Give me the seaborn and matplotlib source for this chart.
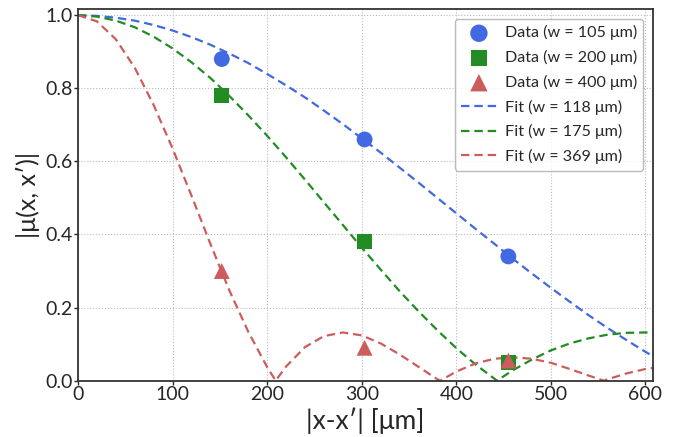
import numpy as np
import pandas as pd
import matplotlib
matplotlib.use("Agg")
import matplotlib.pyplot as plt
import seaborn as sns

# measured points
data_x = [152, 303, 455]
data_105 = [0.88, 0.66, 0.34]
data_200 = [0.78, 0.38, 0.05]
data_400 = [0.30, 0.09, 0.055]

# fit curves
fit_x = [0, 20, 40, 60, 80, 100, 120, 140, 160, 180, 200, 220, 240, 260, 280, 300,
         320, 340, 360, 380, 400, 420, 440, 460, 480, 500, 520, 540, 560, 580, 600, 610]
fit_118 = [1.000, 0.998, 0.993, 0.985, 0.973, 0.958, 0.940, 0.919, 0.895, 0.869, 0.839,
           0.808, 0.775, 0.739, 0.702, 0.663, 0.624, 0.583, 0.542, 0.500, 0.458, 0.416,
           0.375, 0.333, 0.293, 0.254, 0.216, 0.179, 0.144, 0.111, 0.079, 0.064]

fit175_x = [0, 20, 40, 60, 80, 100, 120, 140, 160, 180, 200, 220, 240, 260, 280, 300,
            320, 340, 360, 380, 400, 420, 440, 443, 460, 480, 500, 520, 540, 560, 580, 600, 610]
fit_175 = [1.000, 0.996, 0.985, 0.967, 0.941, 0.909, 0.871, 0.828, 0.779, 0.726, 0.670,
           0.611, 0.550, 0.488, 0.426, 0.364, 0.304, 0.245, 0.190, 0.138, 0.089, 0.045,
           0.006, 0.0, 0.029, 0.058, 0.083, 0.102, 0.116, 0.126, 0.131, 0.132, 0.131]

fit369_x = [0, 20, 40, 60, 80, 100, 120, 140, 160, 180, 200, 209, 220, 240, 260, 280, 300,
            320, 340, 360, 380, 383, 400, 420, 440, 460, 480, 500, 520, 540, 556, 560, 580,
            600, 610]
fit_369 = [1.000, 0.983, 0.934, 0.856, 0.754, 0.635, 0.506, 0.374, 0.247, 0.134, 0.037,
           0.0, 0.039, 0.092, 0.122, 0.132, 0.124, 0.102, 0.072, 0.038, 0.004, 0.0, 0.025,
           0.047, 0.060, 0.064, 0.060, 0.049, 0.032, 0.014, 0.0, 0.004, 0.020, 0.032, 0.036]

blue = "#4169E1"
green = "#228B22"
red = "#CD5C5C"

sns.set_style("white")
plt.rcParams["font.family"] = ["Lato", "DejaVu Sans"]

fig = plt.figure(figsize=(6.88, 4.37), dpi=100)
ax = fig.add_axes([0.1134, 0.1288, 0.8358, 0.8499])

sns.scatterplot(x=data_x, y=data_105, ax=ax, color=blue, marker="o", s=130,
                edgecolor="none", label="Data (w = 105 μm)", zorder=3)
sns.scatterplot(x=data_x, y=data_200, ax=ax, color=green, marker="s", s=115,
                edgecolor="none", label="Data (w = 200 μm)", zorder=3)
sns.scatterplot(x=data_x, y=data_400, ax=ax, color=red, marker="^", s=130,
                edgecolor="none", label="Data (w = 400 μm)", zorder=3)
sns.lineplot(x=fit_x, y=fit_118, ax=ax, color=blue, linestyle=(0, (3.8, 2.2)), linewidth=1.6,
             label="Fit (w = 118 μm)")
sns.lineplot(x=fit175_x, y=fit_175, ax=ax, color=green, linestyle=(0, (3.8, 2.2)), linewidth=1.6,
             label="Fit (w = 175 μm)")
sns.lineplot(x=fit369_x, y=fit_369, ax=ax, color=red, linestyle=(0, (3.8, 2.2)), linewidth=1.6,
             label="Fit (w = 369 μm)")

ax.set_xlim(0, 608)
ax.set_ylim(0, 1.016)
ax.set_xticks([0, 100, 200, 300, 400, 500, 600])
ax.set_yticks([0.0, 0.2, 0.4, 0.6, 0.8, 1.0])
ax.grid(True, linestyle=":", color="#bbbbbb", linewidth=0.8)
for s in ax.spines.values():
    s.set_color("#333333")
    s.set_linewidth(1.3)
ax.tick_params(axis="both", labelsize=14, length=3, width=1, pad=1, direction="out",
               bottom=True, left=True)
ax.set_xlabel("|x-x′| [μm]", fontsize=19, labelpad=3)
ax.set_ylabel("|μ(x, x′)|", fontsize=18, labelpad=4)
ax.legend(loc="upper right", fontsize=11.6, frameon=True, edgecolor="#aaaaaa",
          handlelength=2.2, handletextpad=0.5, labelspacing=0.6, borderaxespad=0.6,
          markerscale=1.1)

fig.savefig("out.png", dpi=100)
